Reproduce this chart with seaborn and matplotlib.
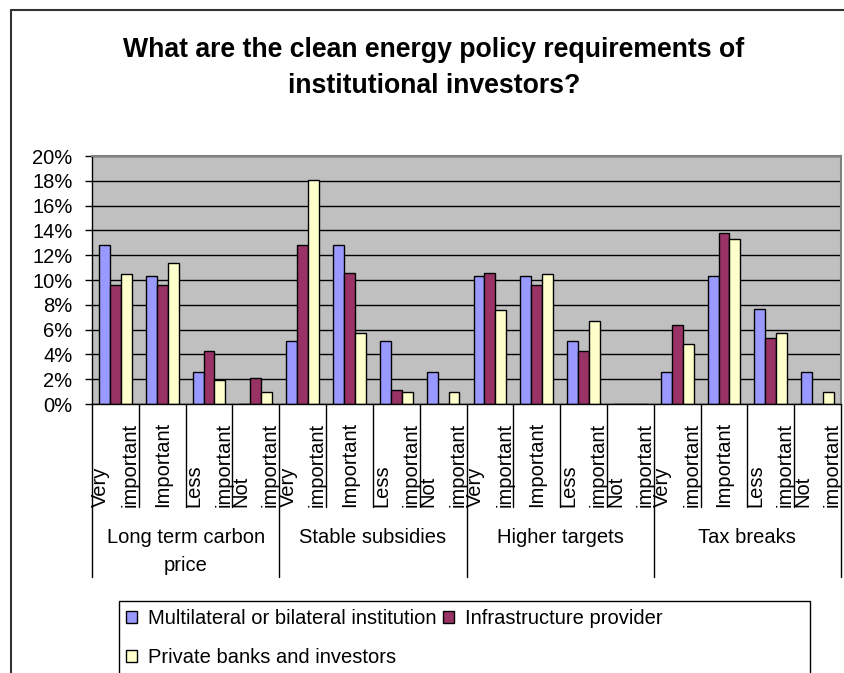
import numpy as np
import pandas as pd
import matplotlib
matplotlib.use("Agg")
import matplotlib.pyplot as plt
import matplotlib.transforms as mtransforms
from matplotlib.patches import Rectangle
from matplotlib.lines import Line2D
import seaborn as sns

# Data (shares of respondents, %)
policies = ["Long term carbon\nprice", "Stable subsidies", "Higher targets", "Tax breaks"]
importance = ["Very\nimportant", "Important", "Less\nimportant", "Not\nimportant"]
series = ["Multilateral or bilateral institution", "Infrastructure provider",
          "Private banks and investors"]
colors = ["#9999FF", "#993366", "#FFFFCC"]

multilateral = [12.8, 10.3, 2.6, 0.0, 5.1, 12.8, 5.1, 2.6, 10.3, 10.3, 5.1, 0.0, 2.6, 10.3, 7.7, 2.6]
infrastructure = [9.6, 9.6, 4.3, 2.1, 12.8, 10.6, 1.1, 0.0, 10.6, 9.6, 4.3, 0.0, 6.4, 13.8, 5.3, 0.0]
private = [10.5, 11.4, 1.9, 1.0, 18.1, 5.7, 1.0, 1.0, 7.6, 10.5, 6.7, 0.0, 4.8, 13.3, 5.7, 1.0]

yticks = list(range(0, 21, 2))

# long form table for seaborn
slots = [f"{p} | {i}" for p in policies for i in importance]
df = pd.DataFrame({
    "slot": slots * 3,
    "series": np.repeat(series, len(slots)),
    "value": multilateral + infrastructure + private,
})

sns.set_theme(style="white")
plt.rcParams['font.family'] = ['Liberation Sans', 'DejaVu Sans']
plt.rcParams['text.color'] = 'black'
plt.rcParams['ytick.color'] = 'black'
plt.rcParams['ytick.labelcolor'] = 'black'
FS = 14.5

W, H = 844, 673
fig = plt.figure(figsize=(W / 100, H / 100), dpi=100)
fig.patch.set_facecolor("white")
ax = fig.add_axes([92 / W, 1 - 404 / H, (841 - 92) / W, (404 - 156) / H])

sns.barplot(data=df, x="slot", y="value", hue="series", order=slots, hue_order=series,
            palette=colors, saturation=1, width=0.7, edgecolor="black", linewidth=1,
            ax=ax)

ax.set_facecolor("#C0C0C0")
ax.set_ylim(0, 20)
ax.set_xlim(-0.5, len(slots) - 0.5)
ax.set_yticks(yticks)
ax.set_yticklabels([f"{v}%" for v in yticks], fontsize=FS, color="black")
ax.set_xticks([])
ax.set_xlabel("")
ax.set_ylabel("")
ax.yaxis.grid(True, color="black", linewidth=1)
ax.set_axisbelow(True)
ax.tick_params(axis="y", left=True, length=5, width=1, color="black", pad=9)
for s in ["left", "bottom"]:
    ax.spines[s].set_color("black")
    ax.spines[s].set_linewidth(1)
for s in ["top", "right"]:
    ax.spines[s].set_color("#808080")
    ax.spines[s].set_linewidth(1.5)

# multi level category axis
tr = mtransforms.blended_transform_factory(ax.transData, fig.transFigure)
for k in range(len(slots) + 1):
    bottom = 577 if k % 4 == 0 else 507
    ax.add_line(Line2D([k - 0.5, k - 0.5], [1 - 404 / H, 1 - bottom / H], color="black",
                       linewidth=1, transform=tr, clip_on=False))
for k in range(len(slots)):
    ax.text(k, 1 - 507 / H, importance[k % 4], transform=tr, rotation=90,
            ha="center", va="bottom", multialignment="left", fontsize=FS,
            linespacing=1.7, color="black")
for g, p in enumerate(policies):
    ax.text(4 * g + 1.5, 1 - 528 / H, p, transform=tr, ha="center", va="top",
            fontsize=FS, linespacing=1.6, color="black")

# legend
handles, labels = ax.get_legend_handles_labels()
ax.get_legend().remove()
order = [0, 2, 1]
fig.legend([handles[i] for i in order], [labels[i] for i in order], ncol=2,
           loc="upper left", bbox_to_anchor=(126 / W, 1 - 609 / H),
           bbox_transform=fig.transFigure, frameon=False, fontsize=FS,
           handlelength=0.55, handleheight=0.55, handletextpad=0.55,
           columnspacing=0.3, labelspacing=1.0, borderpad=0, borderaxespad=0)
fig.add_artist(Rectangle((119 / W, -0.05), (810 - 119) / W, 1 - 601 / H + 0.05,
                         fill=False, edgecolor="black", linewidth=1,
                         transform=fig.transFigure))

# outer chart frame (cropped)
fig.add_artist(Line2D([11 / W, 11 / W], [0, 1 - 10 / H], color="#333333", linewidth=1.5,
                      transform=fig.transFigure))
fig.add_artist(Line2D([11 / W, 1], [1 - 10 / H, 1 - 10 / H], color="#333333", linewidth=1.5,
                      transform=fig.transFigure))

fig.text(434 / W, 1 - 68 / H,
         "What are the clean energy policy requirements of\ninstitutional investors?",
         ha="center", va="center", fontsize=19.2, fontweight="bold", linespacing=1.5,
         color="black")

fig.savefig("out.png", dpi=100)
